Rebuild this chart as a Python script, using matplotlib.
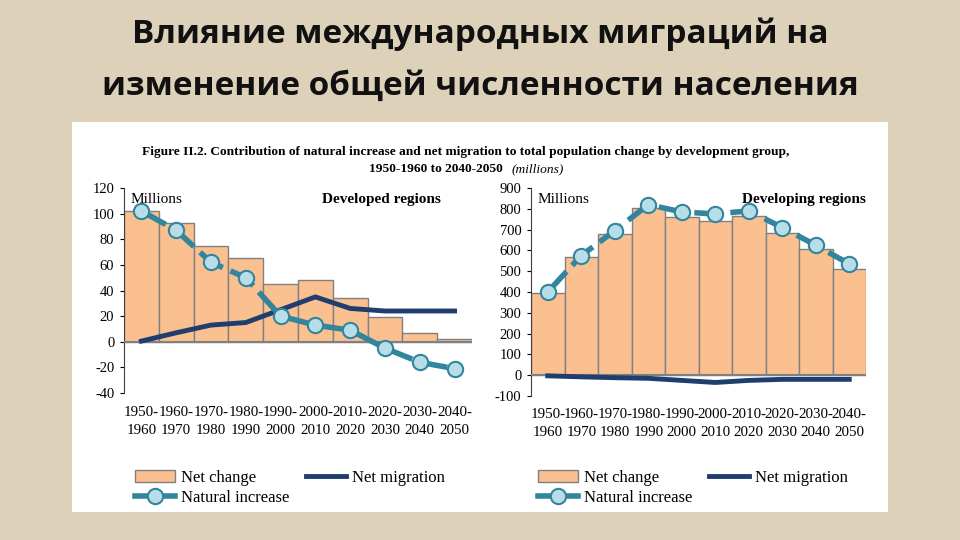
import matplotlib
matplotlib.use("Agg")
from matplotlib import pyplot as plt
from matplotlib.lines import Line2D
import numpy as np

plt.rcParams['axes.unicode_minus'] = False

# periods (x categories)
periods = ['1950-\n1960', '1960-\n1970', '1970-\n1980', '1980-\n1990', '1990-\n2000',
           '2000-\n2010', '2010-\n2020', '2020-\n2030', '2030-\n2040', '2040-\n2050']

# developed regions
dev_net_change = [102, 93, 75, 65, 45, 48, 34, 19, 7, 2]
dev_natural = [102, 87, 62, 50, 20, 13, 9, -5, -16, -21]
dev_migration = [0.5, 7, 13, 15, 25, 35, 26, 24, 24, 24]

# developing regions
dvg_net_change = [395, 570, 680, 805, 760, 740, 765, 685, 605, 510]
dvg_natural = [400, 575, 695, 820, 785, 775, 790, 710, 625, 535]
dvg_migration = [-3, -8, -12, -15, -25, -35, -25, -20, -20, -20]

BG = "#ddd2b9"
BAR = "#fac090"
NAVY = "#1f3d6d"
TEAL = "#31859c"
LIGHT = "#b7dee8"

fig = plt.figure(figsize=(9.6, 5.4), dpi=100)
fig.patch.set_facecolor(BG)

# title
fig.text(0.5, 1 - 34 / 540, "Влияние международных миграций на", ha="center", va="center",
         fontsize=24, fontweight="bold", family="Open Sans", color="#111111")
fig.text(0.5, 1 - 86 / 540, "изменение общей численности населения", ha="center", va="center",
         fontsize=24, fontweight="bold", family="Open Sans", color="#111111")

# white panel
panel = fig.add_axes([72 / 960, 1 - 512 / 540, 816 / 960, 390 / 540])
panel.set_facecolor("white")
panel.set_xticks([])
panel.set_yticks([])
for s in panel.spines.values():
    s.set_visible(False)

serif = "Liberation Serif"
fig.text(466 / 960, 1 - 152 / 540,
         "Figure II.2. Contribution of natural increase and net migration to total population change by development group,",
         ha="center", va="center", fontsize=9.6, fontweight="bold", family=serif)
fig.text(436 / 960, 1 - 169 / 540, "1950-1960 to 2040-2050", ha="center", va="center",
         fontsize=9.6, fontweight="bold", family=serif)
fig.text(512 / 960, 1 - 169 / 540, "(millions)", ha="left", va="center",
         fontsize=9.6, style="italic", family=serif)


def draw(ax, net, nat, mig, ylim, step, name, name_x):
    x = np.arange(len(periods))
    bars = ax.bar(x, net, width=1.0, color=BAR, edgecolor="#808080", linewidth=1, zorder=2)
    ax.axhline(0, color="#808080", lw=1.5, zorder=3)
    ax.plot(x, nat, color=TEAL, lw=4, dashes=(5, 1.5), marker="o", markersize=11,
            markerfacecolor=LIGHT, markeredgecolor=TEAL, markeredgewidth=1.5, zorder=5)
    mline, = ax.plot(x, mig, color=NAVY, lw=3.5, zorder=4)
    ax.set_xlim(-0.5, len(periods) - 0.5)
    ax.set_ylim(*ylim)
    ax.set_yticks(np.arange(ylim[0], ylim[1] + 1, step))
    ax.set_xticks(x)
    ax.set_xticklabels(periods, linespacing=1.5)
    for s in ["top", "right", "bottom"]:
        ax.spines[s].set_visible(False)
    ax.spines["left"].set_color("#404040")
    ax.tick_params(axis="y", length=3, labelsize=10.5, pad=4)
    ax.tick_params(axis="x", length=0, labelsize=10.8, pad=9)
    for t in ax.get_xticklabels() + ax.get_yticklabels():
        t.set_family(serif)
    ax.set_facecolor("white")
    ax.text(0.02, 0.975, "Millions", transform=ax.transAxes, ha="left", va="top",
            fontsize=11, family=serif)
    ax.text(name_x, 0.975, name, transform=ax.transAxes, ha="right", va="top",
            fontsize=11, fontweight="bold", family=serif)
    nat_handle = Line2D([], [], color=TEAL, lw=4, marker="o", markersize=11,
                        markerfacecolor=LIGHT, markeredgecolor=TEAL, markeredgewidth=1.5)
    return [bars, nat_handle, mline], ["Net change", "Natural increase", "Net migration"]


leg_kw = dict(ncol=2, loc="upper left", frameon=False, prop={"family": serif, "size": 12},
              handlelength=2.4, columnspacing=1.0, handletextpad=0.35, labelspacing=0.25,
              borderpad=0, borderaxespad=0)

ax1 = fig.add_axes([124 / 960, 1 - 393 / 540, 348 / 960, 205 / 540])
h, l = draw(ax1, dev_net_change, dev_natural, dev_migration, (-40, 120), 20,
            "Developed regions", 0.91)
fig.legend(h, l, bbox_to_anchor=(135 / 960, 1 - 470 / 540), **leg_kw)

ax2 = fig.add_axes([531 / 960, 1 - 396 / 540, 335 / 960, 208 / 540])
h, l = draw(ax2, dvg_net_change, dvg_natural, dvg_migration, (-100, 900), 100,
            "Developing regions", 1.0)
fig.legend(h, l, bbox_to_anchor=(538 / 960, 1 - 470 / 540), **leg_kw)

fig.savefig("out.png", dpi=100, facecolor=BG)
